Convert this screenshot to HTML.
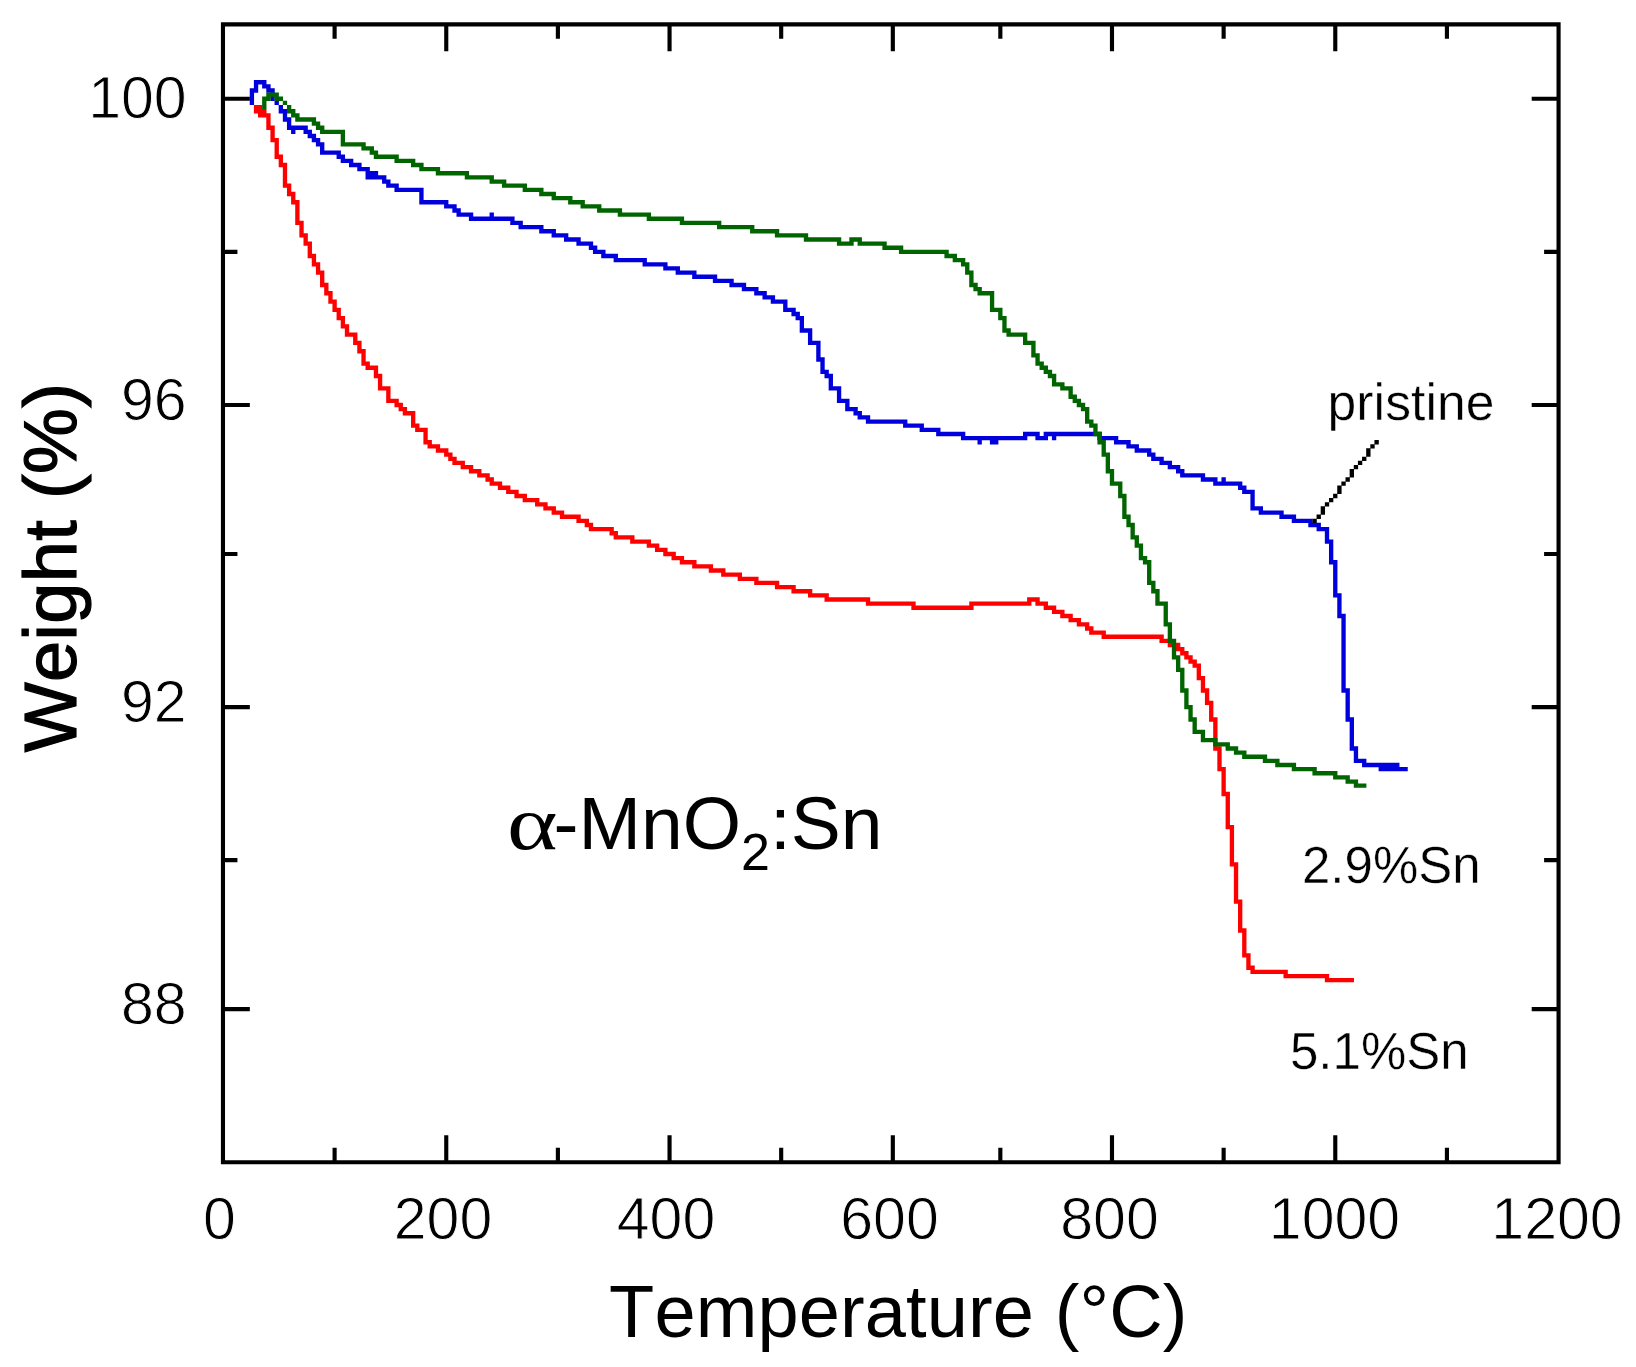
<!DOCTYPE html>
<html lang="en">
<head>
<meta charset="utf-8">
<title>TGA of α-MnO2:Sn</title>
<style>
html,body{margin:0;padding:0;background:#fff;}
body{width:1636px;height:1367px;overflow:hidden;}
svg{display:block;font-family:"Liberation Sans",Arial,Helvetica,sans-serif;fill:#000;font-kerning:none;}
.thin{stroke:#fff;stroke-width:0.9px;}
.thin2{stroke:#fff;stroke-width:0.4px;}
.tk{fill:#000;}
</style>
</head>
<body>
<svg width="1636" height="1367" viewBox="0 0 1636 1367">
<rect x="0" y="0" width="1636" height="1367" fill="#ffffff"/>
<path d="M253.88 80.07h12.60v4.34h-12.60zM253.88 84.21h4.33v4.34h-4.33zM262.14 84.21h8.47v4.34h-8.47zM249.74 88.35h8.47v4.34h-8.47zM266.28 88.35h8.47v4.34h-8.47zM249.74 92.48h4.33v4.34h-4.33zM270.41 92.48h4.33v4.34h-4.33zM249.74 96.62h4.33v4.34h-4.33zM270.41 96.62h4.33v4.34h-4.33zM249.74 100.76h4.33v4.34h-4.33zM274.55 100.76h4.33v4.34h-4.33zM278.69 104.90h4.33v4.34h-4.33zM278.69 109.04h8.47v4.34h-8.47zM282.82 113.17h4.33v4.34h-4.33zM282.82 117.31h8.47v4.34h-8.47zM286.95 121.45h4.33v4.34h-4.33zM286.95 125.59h20.87v4.34h-20.87zM291.09 129.73h4.33v4.34h-4.33zM303.50 129.73h8.47v4.34h-8.47zM307.63 133.86h8.47v4.34h-8.47zM311.76 138.00h8.47v4.34h-8.47zM315.90 142.14h8.47v4.34h-8.47zM320.03 146.28h4.33v4.34h-4.33zM320.03 150.42h20.87v4.34h-20.87zM336.57 154.55h8.47v4.34h-8.47zM340.71 158.69h12.60v4.34h-12.60zM348.98 162.83h12.60v4.34h-12.60zM357.25 166.97h12.60v4.34h-12.60zM365.52 171.11h12.60v4.34h-12.60zM365.52 175.24h20.87v4.34h-20.87zM382.06 179.38h8.47v4.34h-8.47zM386.19 183.52h12.60v4.34h-12.60zM394.46 187.66h29.14v4.34h-29.14zM419.27 191.80h4.33v4.34h-4.33zM419.27 195.93h4.33v4.34h-4.33zM419.27 200.07h29.14v4.34h-29.14zM444.08 204.21h12.60v4.34h-12.60zM452.35 208.35h8.47v4.34h-8.47zM456.49 212.49h16.74v4.34h-16.74zM489.57 212.49h4.33v4.34h-4.33zM468.89 216.62h45.69v4.34h-45.69zM510.25 220.76h12.60v4.34h-12.60zM518.51 224.90h25.01v4.34h-25.01zM539.19 229.04h16.74v4.34h-16.74zM551.59 233.18h16.74v4.34h-16.74zM564.00 237.31h16.74v4.34h-16.74zM576.40 241.45h16.74v4.34h-16.74zM588.81 245.59h8.47v4.34h-8.47zM592.94 249.73h12.60v4.34h-12.60zM601.21 253.87h16.74v4.34h-16.74zM613.62 258.00h33.28v4.34h-33.28zM642.56 262.14h25.01v4.34h-25.01zM663.24 266.28h16.74v4.34h-16.74zM675.64 270.42h20.87v4.34h-20.87zM692.18 274.56h25.01v4.34h-25.01zM712.86 278.69h20.87v4.34h-20.87zM729.40 282.83h16.74v4.34h-16.74zM741.80 286.97h16.74v4.34h-16.74zM754.21 291.11h12.60v4.34h-12.60zM762.48 295.25h12.60v4.34h-12.60zM770.75 299.38h16.74v4.34h-16.74zM783.15 303.52h4.33v4.34h-4.33zM783.15 307.66h12.60v4.34h-12.60zM791.42 311.80h8.47v4.34h-8.47zM795.56 315.94h8.47v4.34h-8.47zM799.69 320.07h4.33v4.34h-4.33zM799.69 324.21h4.33v4.34h-4.33zM799.69 328.35h12.60v4.34h-12.60zM807.96 332.49h4.33v4.34h-4.33zM807.96 336.63h4.33v4.34h-4.33zM807.96 340.76h12.60v4.34h-12.60zM816.23 344.90h4.33v4.34h-4.33zM816.23 349.04h4.33v4.34h-4.33zM816.23 353.18h4.33v4.34h-4.33zM816.23 357.32h8.47v4.34h-8.47zM820.37 361.45h4.33v4.34h-4.33zM820.37 365.59h4.33v4.34h-4.33zM820.37 369.73h8.47v4.34h-8.47zM824.50 373.87h8.47v4.34h-8.47zM828.64 378.01h4.33v4.34h-4.33zM828.64 382.14h4.33v4.34h-4.33zM828.64 386.28h12.60v4.34h-12.60zM836.91 390.42h4.33v4.34h-4.33zM836.91 394.56h4.33v4.34h-4.33zM836.91 398.70h12.60v4.34h-12.60zM845.18 402.83h4.33v4.34h-4.33zM845.18 406.97h12.60v4.34h-12.60zM853.45 411.11h8.47v4.34h-8.47zM857.58 415.25h12.60v4.34h-12.60zM865.85 419.39h41.55v4.34h-41.55zM903.07 423.52h20.87v4.34h-20.87zM919.61 427.66h20.87v4.34h-20.87zM936.15 431.80h29.14v4.34h-29.14zM1022.99 431.80h16.74v4.34h-16.74zM1043.66 431.80h58.09v4.34h-58.09zM960.96 435.94h66.36v4.34h-66.36zM1035.39 435.94h12.60v4.34h-12.60zM1051.93 435.94h4.33v4.34h-4.33zM1097.41 435.94h20.87v4.34h-20.87zM977.50 440.08h4.33v4.34h-4.33zM989.90 440.08h8.47v4.34h-8.47zM1113.96 440.08h16.74v4.34h-16.74zM1126.36 444.21h12.60v4.34h-12.60zM1134.63 448.35h16.74v4.34h-16.74zM1147.04 452.49h8.47v4.34h-8.47zM1151.17 456.63h12.60v4.34h-12.60zM1159.44 460.77h12.60v4.34h-12.60zM1167.71 464.90h12.60v4.34h-12.60zM1175.98 469.04h8.47v4.34h-8.47zM1180.12 473.18h25.01v4.34h-25.01zM1200.79 477.32h16.74v4.34h-16.74zM1221.47 477.32h4.33v4.34h-4.33zM1213.19 481.46h29.14v4.34h-29.14zM1238.01 485.59h8.47v4.34h-8.47zM1242.14 489.73h12.60v4.34h-12.60zM1250.41 493.87h4.33v4.34h-4.33zM1250.41 498.01h4.33v4.34h-4.33zM1250.41 502.15h4.33v4.34h-4.33zM1250.41 506.28h12.60v4.34h-12.60zM1258.68 510.42h25.01v4.34h-25.01zM1279.36 514.56h16.74v4.34h-16.74zM1291.76 518.70h20.87v4.34h-20.87zM1308.30 522.84h12.60v4.34h-12.60zM1316.57 526.97h12.60v4.34h-12.60zM1324.84 531.11h4.33v4.34h-4.33zM1324.84 535.25h4.33v4.34h-4.33zM1324.84 539.39h8.47v4.34h-8.47zM1328.98 543.53h4.33v4.34h-4.33zM1328.98 547.66h4.33v4.34h-4.33zM1328.98 551.80h4.33v4.34h-4.33zM1328.98 555.94h4.33v4.34h-4.33zM1328.98 560.08h8.47v4.34h-8.47zM1333.11 564.22h4.33v4.34h-4.33zM1333.11 568.35h4.33v4.34h-4.33zM1333.11 572.49h4.33v4.34h-4.33zM1333.11 576.63h4.33v4.34h-4.33zM1333.11 580.77h4.33v4.34h-4.33zM1333.11 584.91h4.33v4.34h-4.33zM1333.11 589.04h4.33v4.34h-4.33zM1333.11 593.18h8.47v4.34h-8.47zM1337.25 597.32h4.33v4.34h-4.33zM1337.25 601.46h4.33v4.34h-4.33zM1337.25 605.60h4.33v4.34h-4.33zM1337.25 609.73h4.33v4.34h-4.33zM1337.25 613.87h8.47v4.34h-8.47zM1341.38 618.01h4.33v4.34h-4.33zM1341.38 622.15h4.33v4.34h-4.33zM1341.38 626.29h4.33v4.34h-4.33zM1341.38 630.42h4.33v4.34h-4.33zM1341.38 634.56h4.33v4.34h-4.33zM1341.38 638.70h4.33v4.34h-4.33zM1341.38 642.84h4.33v4.34h-4.33zM1341.38 646.98h4.33v4.34h-4.33zM1341.38 651.11h4.33v4.34h-4.33zM1341.38 655.25h4.33v4.34h-4.33zM1341.38 659.39h4.33v4.34h-4.33zM1341.38 663.53h4.33v4.34h-4.33zM1341.38 667.67h4.33v4.34h-4.33zM1341.38 671.80h4.33v4.34h-4.33zM1341.38 675.94h4.33v4.34h-4.33zM1341.38 680.08h4.33v4.34h-4.33zM1341.38 684.22h4.33v4.34h-4.33zM1341.38 688.36h8.47v4.34h-8.47zM1345.52 692.49h4.33v4.34h-4.33zM1345.52 696.63h4.33v4.34h-4.33zM1345.52 700.77h4.33v4.34h-4.33zM1345.52 704.91h4.33v4.34h-4.33zM1345.52 709.05h4.33v4.34h-4.33zM1345.52 713.18h4.33v4.34h-4.33zM1345.52 717.32h8.47v4.34h-8.47zM1349.65 721.46h4.33v4.34h-4.33zM1349.65 725.60h4.33v4.34h-4.33zM1349.65 729.74h4.33v4.34h-4.33zM1349.65 733.87h4.33v4.34h-4.33zM1349.65 738.01h4.33v4.34h-4.33zM1349.65 742.15h4.33v4.34h-4.33zM1349.65 746.29h8.47v4.34h-8.47zM1353.79 750.43h4.33v4.34h-4.33zM1353.79 754.56h4.33v4.34h-4.33zM1353.79 758.70h12.60v4.34h-12.60zM1362.06 762.84h37.41v4.34h-37.41zM1378.60 766.98h29.14v4.34h-29.14z" fill="#0000dc"/>
<path d="M253.88 104.90h8.47v4.34h-8.47zM253.88 109.04h12.60v4.34h-12.60zM258.01 113.17h12.60v4.34h-12.60zM266.28 117.31h4.33v4.34h-4.33zM266.28 121.45h4.33v4.34h-4.33zM266.28 125.59h8.47v4.34h-8.47zM270.41 129.73h4.33v4.34h-4.33zM270.41 133.86h4.33v4.34h-4.33zM270.41 138.00h8.47v4.34h-8.47zM274.55 142.14h4.33v4.34h-4.33zM274.55 146.28h4.33v4.34h-4.33zM274.55 150.42h4.33v4.34h-4.33zM274.55 154.55h8.47v4.34h-8.47zM278.69 158.69h4.33v4.34h-4.33zM278.69 162.83h8.47v4.34h-8.47zM282.82 166.97h4.33v4.34h-4.33zM282.82 171.11h4.33v4.34h-4.33zM282.82 175.24h4.33v4.34h-4.33zM282.82 179.38h4.33v4.34h-4.33zM282.82 183.52h8.47v4.34h-8.47zM286.95 187.66h4.33v4.34h-4.33zM286.95 191.80h8.47v4.34h-8.47zM291.09 195.93h4.33v4.34h-4.33zM291.09 200.07h8.47v4.34h-8.47zM295.22 204.21h4.33v4.34h-4.33zM295.22 208.35h4.33v4.34h-4.33zM295.22 212.49h4.33v4.34h-4.33zM295.22 216.62h4.33v4.34h-4.33zM295.22 220.76h8.47v4.34h-8.47zM299.36 224.90h4.33v4.34h-4.33zM299.36 229.04h4.33v4.34h-4.33zM299.36 233.18h8.47v4.34h-8.47zM303.50 237.31h4.33v4.34h-4.33zM303.50 241.45h8.47v4.34h-8.47zM307.63 245.59h4.33v4.34h-4.33zM307.63 249.73h4.33v4.34h-4.33zM307.63 253.87h8.47v4.34h-8.47zM311.76 258.00h4.33v4.34h-4.33zM311.76 262.14h8.47v4.34h-8.47zM315.90 266.28h4.33v4.34h-4.33zM315.90 270.42h8.47v4.34h-8.47zM320.03 274.56h4.33v4.34h-4.33zM320.03 278.69h4.33v4.34h-4.33zM320.03 282.83h8.47v4.34h-8.47zM324.17 286.97h4.33v4.34h-4.33zM324.17 291.11h8.47v4.34h-8.47zM328.30 295.25h4.33v4.34h-4.33zM328.30 299.38h8.47v4.34h-8.47zM332.44 303.52h4.33v4.34h-4.33zM332.44 307.66h8.47v4.34h-8.47zM336.57 311.80h4.33v4.34h-4.33zM336.57 315.94h8.47v4.34h-8.47zM340.71 320.07h4.33v4.34h-4.33zM340.71 324.21h8.47v4.34h-8.47zM344.84 328.35h4.33v4.34h-4.33zM344.84 332.49h12.60v4.34h-12.60zM353.11 336.63h4.33v4.34h-4.33zM353.11 340.76h8.47v4.34h-8.47zM357.25 344.90h4.33v4.34h-4.33zM357.25 349.04h8.47v4.34h-8.47zM361.38 353.18h4.33v4.34h-4.33zM361.38 357.32h4.33v4.34h-4.33zM361.38 361.45h8.47v4.34h-8.47zM365.52 365.59h12.60v4.34h-12.60zM373.79 369.73h4.33v4.34h-4.33zM373.79 373.87h8.47v4.34h-8.47zM377.92 378.01h4.33v4.34h-4.33zM377.92 382.14h4.33v4.34h-4.33zM377.92 386.28h12.60v4.34h-12.60zM386.19 390.42h4.33v4.34h-4.33zM386.19 394.56h4.33v4.34h-4.33zM386.19 398.70h12.60v4.34h-12.60zM394.46 402.83h8.47v4.34h-8.47zM398.60 406.97h8.47v4.34h-8.47zM402.73 411.11h12.60v4.34h-12.60zM411.00 415.25h4.33v4.34h-4.33zM411.00 419.39h4.33v4.34h-4.33zM411.00 423.52h8.47v4.34h-8.47zM415.14 427.66h12.60v4.34h-12.60zM423.41 431.80h4.33v4.34h-4.33zM423.41 435.94h4.33v4.34h-4.33zM423.41 440.08h8.47v4.34h-8.47zM427.54 444.21h12.60v4.34h-12.60zM435.81 448.35h12.60v4.34h-12.60zM444.08 452.49h8.47v4.34h-8.47zM448.22 456.63h8.47v4.34h-8.47zM452.35 460.77h12.60v4.34h-12.60zM460.62 464.90h12.60v4.34h-12.60zM468.89 469.04h12.60v4.34h-12.60zM477.16 473.18h12.60v4.34h-12.60zM485.43 477.32h8.47v4.34h-8.47zM489.57 481.46h12.60v4.34h-12.60zM497.84 485.59h12.60v4.34h-12.60zM506.11 489.73h12.60v4.34h-12.60zM514.38 493.87h12.60v4.34h-12.60zM522.65 498.01h16.74v4.34h-16.74zM535.05 502.15h12.60v4.34h-12.60zM543.32 506.28h12.60v4.34h-12.60zM551.59 510.42h12.60v4.34h-12.60zM559.87 514.56h20.87v4.34h-20.87zM576.40 518.70h12.60v4.34h-12.60zM584.67 522.84h8.47v4.34h-8.47zM588.81 526.97h25.01v4.34h-25.01zM609.49 531.11h8.47v4.34h-8.47zM613.62 535.25h20.87v4.34h-20.87zM630.16 539.39h20.87v4.34h-20.87zM646.70 543.53h12.60v4.34h-12.60zM654.97 547.66h12.60v4.34h-12.60zM663.24 551.80h12.60v4.34h-12.60zM671.51 555.94h12.60v4.34h-12.60zM679.78 560.08h16.74v4.34h-16.74zM692.18 564.22h20.87v4.34h-20.87zM708.72 568.35h16.74v4.34h-16.74zM721.13 572.49h20.87v4.34h-20.87zM737.67 576.63h20.87v4.34h-20.87zM754.21 580.77h25.01v4.34h-25.01zM774.88 584.91h20.87v4.34h-20.87zM791.42 589.04h20.87v4.34h-20.87zM807.96 593.18h20.87v4.34h-20.87zM824.50 597.32h45.69v4.34h-45.69zM1027.12 597.32h12.60v4.34h-12.60zM865.85 601.46h49.82v4.34h-49.82zM969.23 601.46h62.23v4.34h-62.23zM1035.39 601.46h12.60v4.34h-12.60zM911.34 605.60h62.23v4.34h-62.23zM1043.66 605.60h12.60v4.34h-12.60zM1051.93 609.73h12.60v4.34h-12.60zM1060.20 613.87h12.60v4.34h-12.60zM1068.47 618.01h12.60v4.34h-12.60zM1076.74 622.15h12.60v4.34h-12.60zM1085.01 626.29h8.47v4.34h-8.47zM1089.14 630.42h16.74v4.34h-16.74zM1101.55 634.56h62.23v4.34h-62.23zM1159.44 638.70h12.60v4.34h-12.60zM1167.71 642.84h12.60v4.34h-12.60zM1175.98 646.98h8.47v4.34h-8.47zM1180.12 651.11h8.47v4.34h-8.47zM1184.25 655.25h8.47v4.34h-8.47zM1188.38 659.39h8.47v4.34h-8.47zM1192.52 663.53h8.47v4.34h-8.47zM1196.65 667.67h4.33v4.34h-4.33zM1196.65 671.80h4.33v4.34h-4.33zM1196.65 675.94h8.47v4.34h-8.47zM1200.79 680.08h4.33v4.34h-4.33zM1200.79 684.22h4.33v4.34h-4.33zM1200.79 688.36h8.47v4.34h-8.47zM1204.92 692.49h4.33v4.34h-4.33zM1204.92 696.63h4.33v4.34h-4.33zM1204.92 700.77h8.47v4.34h-8.47zM1209.06 704.91h4.33v4.34h-4.33zM1209.06 709.05h4.33v4.34h-4.33zM1209.06 713.18h4.33v4.34h-4.33zM1209.06 717.32h8.47v4.34h-8.47zM1213.19 721.46h4.33v4.34h-4.33zM1213.19 725.60h4.33v4.34h-4.33zM1213.19 729.74h4.33v4.34h-4.33zM1213.19 733.87h4.33v4.34h-4.33zM1213.19 738.01h4.33v4.34h-4.33zM1213.19 742.15h4.33v4.34h-4.33zM1213.19 746.29h8.47v4.34h-8.47zM1217.33 750.43h4.33v4.34h-4.33zM1217.33 754.56h4.33v4.34h-4.33zM1217.33 758.70h4.33v4.34h-4.33zM1217.33 762.84h4.33v4.34h-4.33zM1217.33 766.98h8.47v4.34h-8.47zM1221.47 771.12h4.33v4.34h-4.33zM1221.47 775.25h4.33v4.34h-4.33zM1221.47 779.39h4.33v4.34h-4.33zM1221.47 783.53h4.33v4.34h-4.33zM1221.47 787.67h4.33v4.34h-4.33zM1221.47 791.81h8.47v4.34h-8.47zM1225.60 795.94h4.33v4.34h-4.33zM1225.60 800.08h4.33v4.34h-4.33zM1225.60 804.22h4.33v4.34h-4.33zM1225.60 808.36h4.33v4.34h-4.33zM1225.60 812.50h4.33v4.34h-4.33zM1225.60 816.63h4.33v4.34h-4.33zM1225.60 820.77h4.33v4.34h-4.33zM1225.60 824.91h8.47v4.34h-8.47zM1229.74 829.05h4.33v4.34h-4.33zM1229.74 833.19h4.33v4.34h-4.33zM1229.74 837.32h4.33v4.34h-4.33zM1229.74 841.46h4.33v4.34h-4.33zM1229.74 845.60h4.33v4.34h-4.33zM1229.74 849.74h4.33v4.34h-4.33zM1229.74 853.88h4.33v4.34h-4.33zM1229.74 858.01h4.33v4.34h-4.33zM1229.74 862.15h8.47v4.34h-8.47zM1233.87 866.29h4.33v4.34h-4.33zM1233.87 870.43h4.33v4.34h-4.33zM1233.87 874.57h4.33v4.34h-4.33zM1233.87 878.70h4.33v4.34h-4.33zM1233.87 882.84h4.33v4.34h-4.33zM1233.87 886.98h4.33v4.34h-4.33zM1233.87 891.12h4.33v4.34h-4.33zM1233.87 895.26h4.33v4.34h-4.33zM1233.87 899.39h8.47v4.34h-8.47zM1238.01 903.53h4.33v4.34h-4.33zM1238.01 907.67h4.33v4.34h-4.33zM1238.01 911.81h4.33v4.34h-4.33zM1238.01 915.95h4.33v4.34h-4.33zM1238.01 920.08h4.33v4.34h-4.33zM1238.01 924.22h4.33v4.34h-4.33zM1238.01 928.36h8.47v4.34h-8.47zM1242.14 932.50h4.33v4.34h-4.33zM1242.14 936.64h4.33v4.34h-4.33zM1242.14 940.77h4.33v4.34h-4.33zM1242.14 944.91h4.33v4.34h-4.33zM1242.14 949.05h4.33v4.34h-4.33zM1242.14 953.19h8.47v4.34h-8.47zM1246.28 957.33h4.33v4.34h-4.33zM1246.28 961.46h4.33v4.34h-4.33zM1246.28 965.60h8.47v4.34h-8.47zM1250.41 969.74h37.41v4.34h-37.41zM1283.49 973.88h45.69v4.34h-45.69zM1324.84 978.02h29.14v4.34h-29.14z" fill="#ff0000"/>
<path d="M266.28 92.48h12.60v4.34h-12.60zM262.14 96.62h8.47v4.34h-8.47zM274.55 96.62h8.47v4.34h-8.47zM262.14 100.76h4.33v4.34h-4.33zM282.82 100.76h4.33v4.34h-4.33zM262.14 104.90h4.33v4.34h-4.33zM286.95 104.90h4.33v4.34h-4.33zM286.95 109.04h8.47v4.34h-8.47zM291.09 113.17h8.47v4.34h-8.47zM295.22 117.31h20.87v4.34h-20.87zM311.76 121.45h8.47v4.34h-8.47zM315.90 125.59h8.47v4.34h-8.47zM320.03 129.73h25.01v4.34h-25.01zM340.71 133.86h4.33v4.34h-4.33zM340.71 138.00h4.33v4.34h-4.33zM340.71 142.14h25.01v4.34h-25.01zM361.38 146.28h12.60v4.34h-12.60zM369.65 150.42h8.47v4.34h-8.47zM373.79 154.55h25.01v4.34h-25.01zM394.46 158.69h20.87v4.34h-20.87zM411.00 162.83h12.60v4.34h-12.60zM419.27 166.97h20.87v4.34h-20.87zM435.81 171.11h33.28v4.34h-33.28zM464.76 175.24h29.14v4.34h-29.14zM489.57 179.38h16.74v4.34h-16.74zM501.97 183.52h25.01v4.34h-25.01zM522.65 187.66h20.87v4.34h-20.87zM539.19 191.80h16.74v4.34h-16.74zM551.59 195.93h20.87v4.34h-20.87zM568.13 200.07h16.74v4.34h-16.74zM580.54 204.21h20.87v4.34h-20.87zM597.08 208.35h25.01v4.34h-25.01zM617.75 212.49h33.28v4.34h-33.28zM646.70 216.62h37.41v4.34h-37.41zM679.78 220.76h41.55v4.34h-41.55zM717.00 224.90h37.41v4.34h-37.41zM750.07 229.04h29.14v4.34h-29.14zM774.88 233.18h33.28v4.34h-33.28zM803.83 237.31h37.41v4.34h-37.41zM849.31 237.31h12.60v4.34h-12.60zM836.91 241.45h16.74v4.34h-16.74zM857.58 241.45h29.14v4.34h-29.14zM882.39 245.59h20.87v4.34h-20.87zM898.93 249.73h49.82v4.34h-49.82zM944.42 253.87h12.60v4.34h-12.60zM952.69 258.00h12.60v4.34h-12.60zM960.96 262.14h8.47v4.34h-8.47zM965.09 266.28h4.33v4.34h-4.33zM965.09 270.42h8.47v4.34h-8.47zM969.23 274.56h4.33v4.34h-4.33zM969.23 278.69h4.33v4.34h-4.33zM969.23 282.83h8.47v4.34h-8.47zM973.36 286.97h8.47v4.34h-8.47zM977.50 291.11h16.74v4.34h-16.74zM989.90 295.25h4.33v4.34h-4.33zM989.90 299.38h4.33v4.34h-4.33zM989.90 303.52h4.33v4.34h-4.33zM989.90 307.66h12.60v4.34h-12.60zM998.17 311.80h4.33v4.34h-4.33zM998.17 315.94h8.47v4.34h-8.47zM1002.31 320.07h4.33v4.34h-4.33zM1002.31 324.21h4.33v4.34h-4.33zM1002.31 328.35h8.47v4.34h-8.47zM1006.44 332.49h20.87v4.34h-20.87zM1022.99 336.63h4.33v4.34h-4.33zM1022.99 340.76h12.60v4.34h-12.60zM1031.26 344.90h4.33v4.34h-4.33zM1031.26 349.04h4.33v4.34h-4.33zM1031.26 353.18h8.47v4.34h-8.47zM1035.39 357.32h4.33v4.34h-4.33zM1035.39 361.45h8.47v4.34h-8.47zM1039.53 365.59h8.47v4.34h-8.47zM1043.66 369.73h8.47v4.34h-8.47zM1047.80 373.87h8.47v4.34h-8.47zM1051.93 378.01h4.33v4.34h-4.33zM1051.93 382.14h12.60v4.34h-12.60zM1060.20 386.28h12.60v4.34h-12.60zM1068.47 390.42h4.33v4.34h-4.33zM1068.47 394.56h8.47v4.34h-8.47zM1072.61 398.70h8.47v4.34h-8.47zM1076.74 402.83h8.47v4.34h-8.47zM1080.88 406.97h8.47v4.34h-8.47zM1085.01 411.11h4.33v4.34h-4.33zM1085.01 415.25h4.33v4.34h-4.33zM1085.01 419.39h8.47v4.34h-8.47zM1089.14 423.52h8.47v4.34h-8.47zM1093.28 427.66h4.33v4.34h-4.33zM1093.28 431.80h8.47v4.34h-8.47zM1097.41 435.94h4.33v4.34h-4.33zM1097.41 440.08h8.47v4.34h-8.47zM1101.55 444.21h4.33v4.34h-4.33zM1101.55 448.35h4.33v4.34h-4.33zM1101.55 452.49h8.47v4.34h-8.47zM1105.68 456.63h4.33v4.34h-4.33zM1105.68 460.77h4.33v4.34h-4.33zM1105.68 464.90h4.33v4.34h-4.33zM1105.68 469.04h8.47v4.34h-8.47zM1109.82 473.18h4.33v4.34h-4.33zM1109.82 477.32h4.33v4.34h-4.33zM1109.82 481.46h12.60v4.34h-12.60zM1118.09 485.59h4.33v4.34h-4.33zM1118.09 489.73h4.33v4.34h-4.33zM1118.09 493.87h8.47v4.34h-8.47zM1122.23 498.01h4.33v4.34h-4.33zM1122.23 502.15h4.33v4.34h-4.33zM1122.23 506.28h4.33v4.34h-4.33zM1122.23 510.42h4.33v4.34h-4.33zM1122.23 514.56h8.47v4.34h-8.47zM1126.36 518.70h4.33v4.34h-4.33zM1126.36 522.84h8.47v4.34h-8.47zM1130.50 526.97h4.33v4.34h-4.33zM1130.50 531.11h4.33v4.34h-4.33zM1130.50 535.25h8.47v4.34h-8.47zM1134.63 539.39h4.33v4.34h-4.33zM1134.63 543.53h8.47v4.34h-8.47zM1138.77 547.66h4.33v4.34h-4.33zM1138.77 551.80h4.33v4.34h-4.33zM1138.77 555.94h8.47v4.34h-8.47zM1142.90 560.08h8.47v4.34h-8.47zM1147.04 564.22h4.33v4.34h-4.33zM1147.04 568.35h4.33v4.34h-4.33zM1147.04 572.49h4.33v4.34h-4.33zM1147.04 576.63h4.33v4.34h-4.33zM1147.04 580.77h8.47v4.34h-8.47zM1151.17 584.91h4.33v4.34h-4.33zM1151.17 589.04h8.47v4.34h-8.47zM1155.31 593.18h4.33v4.34h-4.33zM1155.31 597.32h4.33v4.34h-4.33zM1155.31 601.46h12.60v4.34h-12.60zM1163.58 605.60h4.33v4.34h-4.33zM1163.58 609.73h4.33v4.34h-4.33zM1163.58 613.87h4.33v4.34h-4.33zM1163.58 618.01h4.33v4.34h-4.33zM1163.58 622.15h8.47v4.34h-8.47zM1167.71 626.29h4.33v4.34h-4.33zM1167.71 630.42h4.33v4.34h-4.33zM1167.71 634.56h4.33v4.34h-4.33zM1167.71 638.70h8.47v4.34h-8.47zM1171.85 642.84h4.33v4.34h-4.33zM1171.85 646.98h4.33v4.34h-4.33zM1171.85 651.11h4.33v4.34h-4.33zM1171.85 655.25h8.47v4.34h-8.47zM1175.98 659.39h4.33v4.34h-4.33zM1175.98 663.53h4.33v4.34h-4.33zM1175.98 667.67h8.47v4.34h-8.47zM1180.12 671.80h4.33v4.34h-4.33zM1180.12 675.94h4.33v4.34h-4.33zM1180.12 680.08h4.33v4.34h-4.33zM1180.12 684.22h4.33v4.34h-4.33zM1180.12 688.36h8.47v4.34h-8.47zM1184.25 692.49h4.33v4.34h-4.33zM1184.25 696.63h4.33v4.34h-4.33zM1184.25 700.77h4.33v4.34h-4.33zM1184.25 704.91h8.47v4.34h-8.47zM1188.38 709.05h4.33v4.34h-4.33zM1188.38 713.18h4.33v4.34h-4.33zM1188.38 717.32h8.47v4.34h-8.47zM1192.52 721.46h4.33v4.34h-4.33zM1192.52 725.60h4.33v4.34h-4.33zM1192.52 729.74h12.60v4.34h-12.60zM1200.79 733.87h4.33v4.34h-4.33zM1200.79 738.01h16.74v4.34h-16.74zM1213.19 742.15h16.74v4.34h-16.74zM1225.60 746.29h12.60v4.34h-12.60zM1233.87 750.43h12.60v4.34h-12.60zM1242.14 754.56h25.01v4.34h-25.01zM1262.82 758.70h16.74v4.34h-16.74zM1275.22 762.84h20.87v4.34h-20.87zM1291.76 766.98h25.01v4.34h-25.01zM1312.43 771.12h25.01v4.34h-25.01zM1333.11 775.25h16.74v4.34h-16.74zM1345.52 779.39h12.60v4.34h-12.60zM1353.79 783.53h12.60v4.34h-12.60z" fill="#006400"/>
<path d="M1374.46 440.08h4.33v4.34h-4.33zM1370.33 444.21h4.33v4.34h-4.33zM1366.19 448.35h4.33v4.34h-4.33zM1366.19 452.49h4.33v4.34h-4.33zM1362.06 456.63h4.33v4.34h-4.33zM1357.92 460.77h4.33v4.34h-4.33zM1353.79 464.90h4.33v4.34h-4.33zM1349.65 469.04h4.33v4.34h-4.33zM1349.65 473.18h4.33v4.34h-4.33zM1345.52 477.32h4.33v4.34h-4.33zM1341.38 481.46h4.33v4.34h-4.33zM1337.25 485.59h4.33v4.34h-4.33zM1337.25 489.73h4.33v4.34h-4.33zM1333.11 493.87h4.33v4.34h-4.33zM1328.98 498.01h4.33v4.34h-4.33zM1324.84 502.15h4.33v4.34h-4.33zM1320.70 506.28h4.33v4.34h-4.33zM1320.70 510.42h4.33v4.34h-4.33zM1316.57 514.56h4.33v4.34h-4.33zM1312.43 518.70h4.33v4.34h-4.33z" fill="#000"/>
<path d="M220.90 22.24h1339.74v4.14h-1339.74zM220.90 1160.19h1339.74v4.14h-1339.74zM220.90 22.24h4.13v1142.09h-4.13zM1556.50 22.24h4.13v1142.09h-4.13zM332.54 26.38h4.13v12.41h-4.13zM332.54 1147.77h4.13v12.41h-4.13zM444.19 26.38h4.13v24.83h-4.13zM444.19 1135.36h4.13v24.83h-4.13zM555.83 26.38h4.13v12.41h-4.13zM555.83 1147.77h4.13v12.41h-4.13zM667.48 26.38h4.13v24.83h-4.13zM667.48 1135.36h4.13v24.83h-4.13zM779.12 26.38h4.13v12.41h-4.13zM779.12 1147.77h4.13v12.41h-4.13zM890.76 26.38h4.13v24.83h-4.13zM890.76 1135.36h4.13v24.83h-4.13zM998.27 26.38h4.13v12.41h-4.13zM998.27 1147.77h4.13v12.41h-4.13zM1109.92 26.38h4.13v24.83h-4.13zM1109.92 1135.36h4.13v24.83h-4.13zM1221.57 26.38h4.13v12.41h-4.13zM1221.57 1147.77h4.13v12.41h-4.13zM1333.21 26.38h4.13v24.83h-4.13zM1333.21 1135.36h4.13v24.83h-4.13zM1444.86 26.38h4.13v12.41h-4.13zM1444.86 1147.77h4.13v12.41h-4.13zM225.03 1007.08h24.81v4.14h-24.81zM1531.69 1007.08h24.81v4.14h-24.81zM225.03 858.11h12.41v4.14h-12.41zM1544.10 858.11h12.40v4.14h-12.40zM225.03 705.01h24.81v4.14h-24.81zM1531.69 705.01h24.81v4.14h-24.81zM225.03 551.90h12.41v4.14h-12.41zM1544.10 551.90h12.40v4.14h-12.40zM225.03 402.93h24.81v4.14h-24.81zM1531.69 402.93h24.81v4.14h-24.81zM225.03 249.83h12.41v4.14h-12.41zM1544.10 249.83h12.40v4.14h-12.40zM225.03 96.72h24.81v4.14h-24.81zM1531.69 96.72h24.81v4.14h-24.81z" fill="#000"/>
<g class="tk">
<text x="219.5" y="1238.8" text-anchor="middle" class="thin" font-size="59">0</text>
<text x="443.0" y="1238.8" text-anchor="middle" class="thin" font-size="59">200</text>
<text x="666.0" y="1238.8" text-anchor="middle" class="thin" font-size="59">400</text>
<text x="889.5" y="1238.8" text-anchor="middle" class="thin" font-size="59">600</text>
<text x="1109.5" y="1238.8" text-anchor="middle" class="thin" font-size="59">800</text>
<text x="1334.5" y="1238.8" text-anchor="middle" class="thin" font-size="59">1000</text>
<text x="1557.0" y="1238.8" text-anchor="middle" class="thin" font-size="59">1200</text>
<text x="186.6" y="117.5" text-anchor="end" class="thin" font-size="59">100</text>
<text x="186.6" y="420.3" text-anchor="end" class="thin" font-size="59">96</text>
<text x="186.6" y="722.0" text-anchor="end" class="thin" font-size="59">92</text>
<text x="186.6" y="1024.0" text-anchor="end" class="thin" font-size="59">88</text>
<text x="1327.5" y="419.5" class="thin2" font-size="51.6" letter-spacing="0.1">pristine</text>
<text x="1302" y="882.5" class="thin2" font-size="51">2.9%Sn</text>
<text x="1290" y="1068.5" class="thin2" font-size="51">5.1%Sn</text>
<text transform="translate(507 849) scale(1.27 1)" font-family="'Liberation Serif','DejaVu Serif',serif" font-size="76">α</text>
<text x="553.5" y="848.8" font-size="75">-MnO<tspan dy="21" font-size="52">2</tspan><tspan dy="-21">:Sn</tspan></text>
</g>
<text x="898.3" y="1336.7" text-anchor="middle" font-size="74" letter-spacing="0.12">Temperature (°C)</text>
<text transform="translate(75.7 567.5) rotate(-90)" text-anchor="middle" font-size="74" letter-spacing="0.35" stroke="#000" stroke-width="1.2">Weight (%)</text>
</svg>
</body>
</html>
